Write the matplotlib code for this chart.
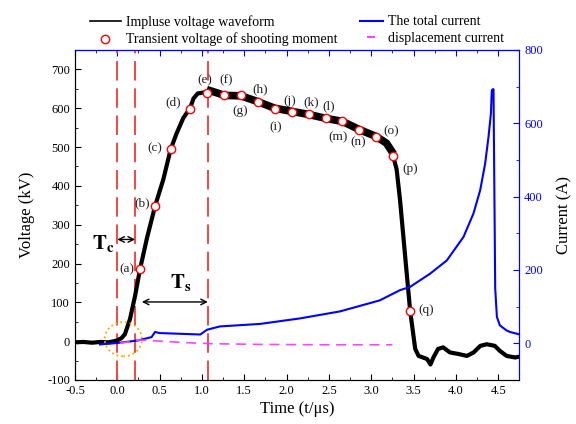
import matplotlib
matplotlib.use('Agg')
import matplotlib.pyplot as plt
from matplotlib.lines import Line2D
from matplotlib.patches import Ellipse
from matplotlib.ticker import MultipleLocator

plt.rcParams['font.family'] = ['Liberation Serif', 'DejaVu Serif']
plt.rcParams['mathtext.fontset'] = 'stix'
plt.rcParams['axes.unicode_minus'] = False

# impulse voltage waveform (kV)
volt_t = [-0.5, -0.4, -0.3, -0.2, -0.1, 0.0, 0.05, 0.09, 0.11, 0.15, 0.21, 0.268,
          0.35, 0.446, 0.544, 0.63, 0.7, 0.78, 0.86, 0.9, 0.95, 1.06, 1.1, 1.2,
          1.26, 1.46, 1.66, 1.86, 2.06, 2.26, 2.46, 2.66, 2.86, 3.06, 3.18, 3.24,
          3.26, 3.3, 3.34, 3.4, 3.46, 3.52, 3.56, 3.66, 3.7, 3.735, 3.79, 3.85,
          3.93, 4.03, 4.13, 4.21, 4.29, 4.365, 4.46, 4.52, 4.6, 4.7, 4.75]
volt_v = [-3, -2, -4, -2, -3, 2, 8, 18, 31, 57, 117, 185,
          265, 348, 417, 494, 535, 575, 600, 625, 638, 642, 645, 638,
          633, 632, 617, 600, 592, 584, 574, 566, 545, 527, 510, 490,
          476, 443, 365, 221, 78, -20, -38, -46, -60, -42, -20, -16,
          -29, -33, -38, -29, -12, -8, -12, -25, -38, -42, -40]

# shooting moments
shot_t = [0.268, 0.446, 0.63, 0.86, 1.06, 1.26, 1.46, 1.66, 1.86, 2.06, 2.26,
          2.46, 2.66, 2.86, 3.06, 3.26, 3.46]
shot_v = [185, 348, 494, 599, 640, 633, 633, 616, 599, 591, 584, 574, 566,
          543, 526, 476, 78]
shot_labels = ['(a)', '(b)', '(c)', '(d)', '(e)', '(f)', '(g)', '(h)', '(i)',
               '(j)', '(k)', '(l)', '(m)', '(n)', '(o)', '(p)', '(q)']
shot_offsets = [(-13, 0), (-13, 3), (-16, 1), (-17, 6), (-2, 12), (2, 15),
                (-1, -16), (2, 13), (1, -19), (-2, 11), (3, 12), (3, 12),
                (-4, -16), (-1, -12), (15, 6), (17, -13), (16, 1)]

# total current (A)
cur_t = [-0.205, 0.01, 0.25, 0.405, 0.446, 0.5, 0.74, 0.98, 1.06, 1.21, 1.69,
         2.16, 2.63, 3.1, 3.34, 3.46, 3.696, 3.893, 4.09, 4.208, 4.287, 4.346,
         4.386, 4.414, 4.425, 4.437, 4.445, 4.465, 4.485, 4.52, 4.6, 4.64, 4.74]
cur_i = [-3, 1, 8, 17, 31, 28, 26, 24, 37, 46, 53,
         68, 87, 117, 145, 154, 190, 226, 290, 354, 417, 490,
         563, 626, 690, 693, 693, 150, 72, 49, 35, 31, 25]

# displacement current (A)
disp_t = [0.03, 0.15, 0.25, 0.35, 0.5, 0.8, 1.1, 1.7, 2.5, 3.25]
disp_i = [0, 5, 9, 8, 6, 2, -1, -3, -4, -4]

# shooting windows
dash_t = [0.0, 0.21, 1.07]

fig = plt.figure(figsize=(5.76, 4.24), dpi=100)
ax = fig.add_axes([0.1302, 0.1038, 0.7714, 0.7783])
ax2 = ax.twinx()

ax.plot(volt_t, volt_v, color='black', lw=3, zorder=3)
plateau = slice(volt_t.index(1.1), volt_t.index(3.24) + 1)
ax.plot(volt_t[plateau], volt_v[plateau], color='black', lw=5.5, zorder=3)
ax.plot(shot_t, shot_v, 'o', ms=6, mfc='white', mec='red', mew=1, zorder=5)
for t, v, lab, off in zip(shot_t, shot_v, shot_labels, shot_offsets):
    ax.annotate(lab, (t, v), xytext=off, textcoords='offset pixels',
                ha='center', va='center', fontsize=9.5, color='#222222')

for t in dash_t:
    ax.axvline(t, color='#f04848', lw=1.4, dashes=(10, 4), zorder=2)

ax.annotate('', xy=(0.0, 262), xytext=(0.21, 262),
            arrowprops=dict(arrowstyle='<->', lw=1, shrinkA=0, shrinkB=0))
ax.annotate('', xy=(0.29, 101), xytext=(1.07, 101),
            arrowprops=dict(arrowstyle='<->', lw=1, shrinkA=0, shrinkB=0))
ax.text(-0.169, 252, r'$\mathbf{T_c}$', fontsize=15, ha='center', va='center')
ax.text(0.749, 150, r'$\mathbf{T_s}$', fontsize=15, ha='center', va='center')
ax.add_patch(Ellipse((0.071, 5), 0.44, 88, fill=False, ec='orange', ls=':',
                     lw=1.3, zorder=4))

ax2.plot(cur_t, cur_i, color='blue', lw=1.5)
ax2.plot(disp_t, disp_i, color='#ff44ff', lw=1.2, dashes=(6, 4))

ax.set_xlim(-0.5, 4.75)
ax.set_ylim(-100, 750)
ax2.set_ylim(-100, 800)
ax.xaxis.set_major_locator(MultipleLocator(0.5))
ax.xaxis.set_minor_locator(MultipleLocator(0.25))
ax.yaxis.set_major_locator(MultipleLocator(100))
ax.yaxis.set_minor_locator(MultipleLocator(50))
ax2.yaxis.set_major_locator(MultipleLocator(200))
ax2.yaxis.set_minor_locator(MultipleLocator(100))

ax.tick_params(which='both', direction='in', labelsize=9)
ax.tick_params(which='major', length=4)
ax.tick_params(which='minor', length=2.5)
ax2.tick_params(which='both', direction='in', colors='blue', labelsize=9)
ax2.tick_params(which='major', length=4)
ax2.tick_params(which='minor', length=2.5)

top = ax.secondary_xaxis('top')
top.xaxis.set_major_locator(MultipleLocator(0.5))
top.xaxis.set_minor_locator(MultipleLocator(0.25))
top.tick_params(which='both', direction='in', colors='blue', labeltop=False)
top.tick_params(which='major', length=4)
top.tick_params(which='minor', length=2.5)
top.spines['top'].set_color('blue')
for a in (ax, ax2):
    a.spines['top'].set_color('blue')
    a.spines['right'].set_color('blue')

ax.set_xlabel('Time (t/\u03bcs)', fontsize=12, labelpad=3)
ax.set_ylabel('Voltage (kV)', fontsize=12, labelpad=9)
ax2.set_ylabel('Current (A)', fontsize=12, labelpad=10)

h1 = [Line2D([], [], color='black', lw=1.2),
      Line2D([], [], color='red', marker='o', ms=6, mfc='white', mew=1, ls='none')]
fig.legend(h1, ['Impluse voltage waveform', 'Transient voltage of shooting moment'],
           loc='upper left', bbox_to_anchor=(83 / 576, 0.98), frameon=False,
           fontsize=10, borderpad=0, handlelength=2.2, handletextpad=0.4,
           labelspacing=0.25)
h2 = [Line2D([], [], color='blue', lw=1.5),
      Line2D([], [], color='#ff44ff', marker='_', ms=6, mew=1.5, ls='none')]
fig.legend(h2, ['The total current', 'displacement current'],
           loc='upper left', bbox_to_anchor=(353 / 576, 0.98), frameon=False,
           fontsize=10, borderpad=0, handlelength=1.65, handletextpad=0.4,
           labelspacing=0.25)

fig.savefig('out.png', dpi=100)
